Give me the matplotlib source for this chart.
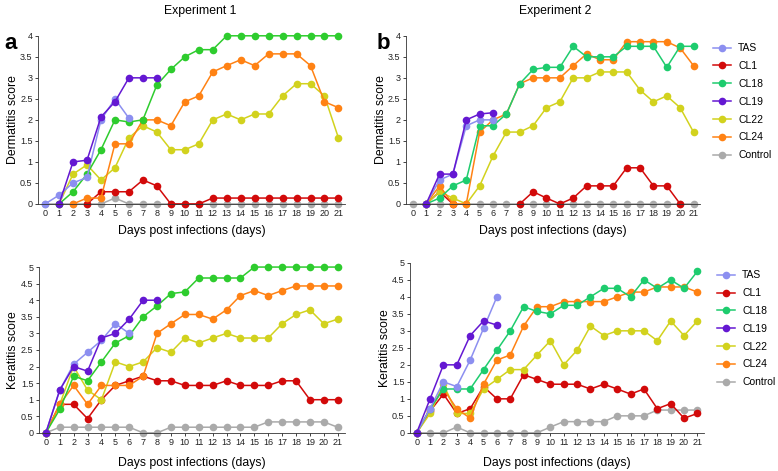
import matplotlib
matplotlib.use('Agg')
import matplotlib.pyplot as plt
import numpy as np

plt.rcParams['font.family'] = ['Liberation Sans', 'DejaVu Sans']

# 数据：天数与各株系评分
lstDays = list(range(22))
lstSeries = ['TAS', 'CL1', 'CL18', 'CL19', 'CL22', 'CL24', 'Control']

# 实验1 皮炎评分
dctDerm1 = {
	'TAS': [0, 0.21, 0.5, 0.63, 2.0, 2.5, 2.04],
	'CL1': [None, None, None, 0, 0.29, 0.29, 0.29, 0.57, 0.43, 0, 0, 0, 0.14, 0.14, 0.14, 0.14, 0.14, 0.14, 0.14, 0.14, 0.14, 0.14],
	'CL18': [None, 0, 0.29, 0.71, 1.29, 2.0, 1.95, 2.0, 2.83, 3.2, 3.5, 3.67, 3.67, 4, 4, 4, 4, 4, 4, 4, 4, 4],
	'CL19': [None, 0, 1.0, 1.04, 2.07, 2.43, 3.0, 3.0, 3.0],
	'CL22': [None, 0, 0.71, 0.93, 0.57, 0.86, 1.57, 1.86, 1.71, 1.29, 1.29, 1.43, 2.0, 2.14, 2.0, 2.14, 2.14, 2.57, 2.86, 2.86, 2.57, 1.57],
	'CL24': [None, None, 0, 0.14, 0.14, 1.43, 1.43, 2.0, 2.0, 1.86, 2.43, 2.57, 3.14, 3.29, 3.43, 3.29, 3.57, 3.57, 3.57, 3.29, 2.43, 2.29],
	'Control': [0, 0, 0, 0, 0, 0.14, 0, 0, 0, 0, 0, 0, 0, 0, 0, 0, 0, 0, 0, 0, 0, 0],
}

# 实验2 皮炎评分
dctDerm2 = {
	'TAS': [None, 0, 0.57, 0.71, 1.86, 2.0, 2.0],
	'CL1': [None, 0, 0.29, 0, None, None, None, None, 0, 0.29, 0.14, 0, 0.14, 0.43, 0.43, 0.43, 0.86, 0.86, 0.43, 0.43, 0],
	'CL18': [None, 0, 0.14, 0.43, 0.57, 1.86, 1.86, 2.14, 2.86, 3.2, 3.25, 3.25, 3.75, 3.5, 3.5, 3.5, 3.75, 3.75, 3.75, 3.25, 3.75, 3.75],
	'CL19': [None, 0, 0.71, 0.71, 2.0, 2.14, 2.17],
	'CL22': [None, 0, 0.29, 0.14, 0, 0.43, 1.14, 1.71, 1.71, 1.86, 2.29, 2.43, 3.0, 3.0, 3.14, 3.14, 3.14, 2.71, 2.43, 2.57, 2.29, 1.71],
	'CL24': [None, 0, 0.43, 0, 0, 1.71, 2.0, 2.14, 2.86, 3.0, 3.0, 3.0, 3.29, 3.57, 3.43, 3.43, 3.86, 3.86, 3.86, 3.86, 3.71, 3.29],
	'Control': [0] * 22,
}

# 实验1 角膜炎评分
dctKer1 = {
	'TAS': [0, 1.29, 2.07, 2.43, 2.79, 3.29, 3.0],
	'CL1': [0, 0.86, 0.86, 0.43, 1.0, 1.43, 1.57, 1.71, 1.57, 1.57, 1.43, 1.43, 1.43, 1.57, 1.43, 1.43, 1.43, 1.57, 1.57, 1.0, 1.0, 1.0],
	'CL18': [0, 0.71, 1.71, 1.57, 2.14, 2.71, 2.93, 3.5, 3.83, 4.2, 4.25, 4.67, 4.67, 4.67, 4.67, 5, 5, 5, 5, 5, 5, 5],
	'CL19': [0, 1.29, 2.0, 1.86, 2.86, 3.0, 3.43, 4.0, 4.0],
	'CL22': [0, 0.86, 2.0, 1.29, 1.0, 2.14, 2.0, 2.14, 2.57, 2.43, 2.86, 2.71, 2.86, 3.0, 2.86, 2.86, 2.86, 3.29, 3.57, 3.71, 3.29, 3.43],
	'CL24': [0, 0.86, 1.43, 0.86, 1.43, 1.43, 1.43, 1.71, 3.0, 3.29, 3.57, 3.57, 3.43, 3.71, 4.14, 4.29, 4.14, 4.29, 4.43, 4.43, 4.43, 4.43],
	'Control': [0, 0.17, 0.17, 0.17, 0.17, 0.17, 0.17, 0, 0, 0.17, 0.17, 0.17, 0.17, 0.17, 0.17, 0.17, 0.33, 0.33, 0.33, 0.33, 0.33, 0.17],
}

# 实验2 角膜炎评分
dctKer2 = {
	'TAS': [0, 0.71, 1.5, 1.36, 2.14, 3.07, 4.0],
	'CL1': [0, 0.64, 1.14, 0.57, 0.71, 1.36, 1.0, 1.0, 1.71, 1.57, 1.43, 1.43, 1.43, 1.29, 1.43, 1.29, 1.14, 1.29, 0.71, 0.86, 0.43, 0.57],
	'CL18': [0, 0.71, 1.29, 1.29, 1.29, 1.86, 2.43, 3.0, 3.71, 3.57, 3.5, 3.75, 3.75, 4.0, 4.25, 4.25, 4.0, 4.5, 4.25, 4.5, 4.25, 4.75],
	'CL19': [0, 1.0, 2.0, 2.0, 2.86, 3.29, 3.17],
	'CL22': [0, 0.57, 1.43, 0.57, 0.57, 1.29, 1.57, 1.86, 1.86, 2.29, 2.71, 2.0, 2.43, 3.14, 2.86, 3.0, 3.0, 3.0, 2.71, 3.29, 2.86, 3.29],
	'CL24': [0, 0.71, 1.29, 0.71, 0.43, 1.43, 2.14, 2.29, 3.14, 3.71, 3.71, 3.86, 3.86, 3.86, 3.86, 4.0, 4.14, 4.14, 4.29, 4.29, 4.29, 4.14],
	'Control': [0, 0, 0, 0.17, 0, 0, 0, 0, 0, 0, 0.17, 0.33, 0.33, 0.33, 0.33, 0.5, 0.5, 0.5, 0.67, 0.67, 0.67, 0.67],
}

dctColors1 = {'TAS': '#8c8ff0', 'CL1': '#d20a0a', 'CL18': '#2ecc2e', 'CL19': '#6418d2',
	'CL22': '#d2d21e', 'CL24': '#ff8214', 'Control': '#aaaaaa'}
dctColors2 = dict(dctColors1)
dctColors2['CL18'] = '#1ecc6e'

# 绘制顺序（后画的在上层）
lstOrder = ['Control', 'CL1', 'CL22', 'CL24', 'CL18', 'TAS', 'CL19']


def draw_panel(ax, dctData, dctColors, fYMax, sYLabel, bLegend, fXPad):
	for sName in lstOrder:
		lstVals = dctData[sName]
		arrY = np.array([np.nan if v is None else v for v in lstVals], dtype=float)
		arrX = np.array(lstDays[:len(arrY)])
		ax.plot(arrX, arrY, '-o', color=dctColors[sName], lw=1.1, ms=5.5,
			markeredgewidth=0, clip_on=False, label=sName)
	ax.set_xlim(-0.5, 21.5)
	ax.set_ylim(0, fYMax)
	ax.set_xticks(lstDays)
	lstYT = np.arange(0, fYMax + 0.01, 0.5)
	ax.set_yticks(lstYT)
	ax.set_yticklabels([('%g' % v) for v in lstYT])
	ax.tick_params(labelsize=6.5, length=2.5, width=0.6, pad=1.5, colors='#222222')
	for sSide in ['top', 'right']:
		ax.spines[sSide].set_visible(False)
	for sSide in ['left', 'bottom']:
		ax.spines[sSide].set_linewidth(0.6)
		ax.spines[sSide].set_color('#333333')
	ax.set_ylabel(sYLabel, fontsize=8.8, labelpad=1)
	ax.set_xlabel('Days post infections (days)', fontsize=8.8, labelpad=fXPad)
	if bLegend:
		hdl, lbl = ax.get_legend_handles_labels()
		dctH = dict(zip(lbl, hdl))
		ax.legend([dctH[s] for s in lstSeries], lstSeries, loc='upper left',
			bbox_to_anchor=(1.03, 0.98), frameon=False, fontsize=7.5,
			handlelength=1.7, handletextpad=0.7, labelspacing=0.75, borderaxespad=0)


fig = plt.figure(figsize=(7.78, 4.71), dpi=100)
ax1 = fig.add_axes([0.049, 0.567, 0.395, 0.357])
ax2 = fig.add_axes([0.522, 0.567, 0.378, 0.357])
ax3 = fig.add_axes([0.050, 0.081, 0.393, 0.352])
ax4 = fig.add_axes([0.527, 0.081, 0.378, 0.361])

draw_panel(ax1, dctDerm1, dctColors1, 4, 'Dermatitis score', False, 5)
draw_panel(ax2, dctDerm2, dctColors2, 4, 'Dermatitis score', True, 5)
draw_panel(ax3, dctKer1, dctColors1, 5, 'Keratitis score', False, 7)
draw_panel(ax4, dctKer2, dctColors2, 5, 'Keratitis score', True, 7)

fig.text(0.257, 0.99, 'Experiment 1', ha='center', va='top', fontsize=8.8)
fig.text(0.713, 0.99, 'Experiment 2', ha='center', va='top', fontsize=8.8)
fig.text(0.006, 0.93, 'a', ha='left', va='top', fontsize=16, fontweight='bold')
fig.text(0.484, 0.93, 'b', ha='left', va='top', fontsize=16, fontweight='bold')

fig.savefig('out.png', dpi=100)
